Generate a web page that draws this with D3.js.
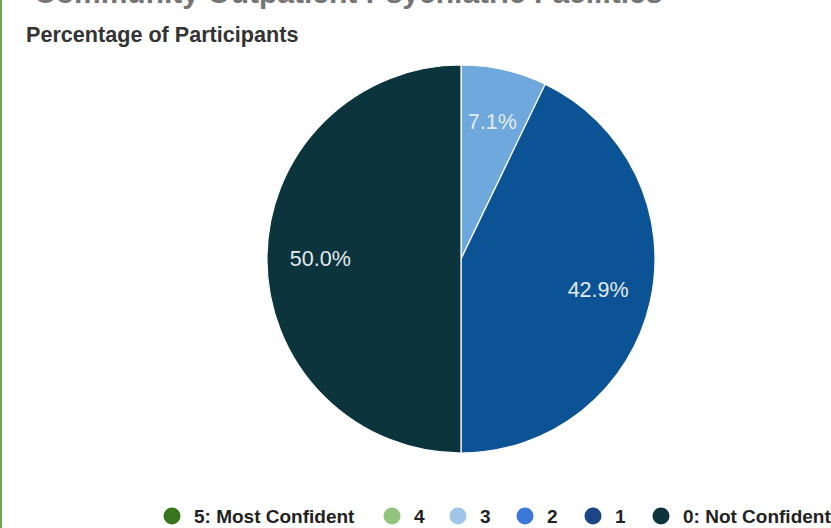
<!DOCTYPE html>
<html>
<head>
<meta charset="utf-8">
<script src="https://cdn.jsdelivr.net/npm/d3@7"></script>
<style>
  html, body { margin: 0; padding: 0; background: #fff; overflow: hidden; }
  svg { display: block; font-family: "Liberation Sans", Arial, sans-serif; }
</style>
</head>
<body>
<svg id="chart" width="831" height="528"></svg>
<script>
// Confidence ratings, 5 (most) down to 0 (not confident)
const categories = ["5: Most Confident", "4", "3", "2", "1", "0: Not Confident"];
const counts = [0, 0, 1, 0, 6, 7];
const sliceColors = ["#38761d", "#93c47d", "#6fa8dc", "#3c78d8", "#0b5394", "#0c343d"];
const legendColors = ["#38761d", "#93c47d", "#9fc5e8", "#3c78d8", "#1c4587", "#0c343d"];
const titleText = "Community Outpatient Psychiatric Facilities";
const subtitleText = "Percentage of Participants";

const W = 831, H = 528;
const svg = d3.select("#chart");

// Frame accent on the left edge
svg.append("rect").attr("x", 0).attr("y", 0).attr("width", 2).attr("height", H).attr("fill", "#6aa84f");

// Chart title sits at the very top of the frame
svg.append("text")
  .attr("x", 34).attr("y", 3)
  .attr("font-size", 30).attr("font-weight", "bold").attr("fill", "#757575")
  .text(titleText);

svg.append("text")
  .attr("x", 26).attr("y", 42)
  .attr("font-size", 21.6).attr("font-weight", "bold").attr("fill", "#333333")
  .text(subtitleText);

const data = categories.map((c, i) => ({ cat: c, value: counts[i], i }));
const total = d3.sum(counts);

const cx = 461, cy = 259, r = 194;
const pie = d3.pie().value(d => d.value).sort(null);
const arcs = pie(data).filter(a => a.data.value > 0);
const arc = d3.arc().innerRadius(0).outerRadius(r);
const labelArc = d3.arc().innerRadius(r * 0.725).outerRadius(r * 0.725);

const g = svg.append("g").attr("transform", `translate(${cx},${cy})`);
g.selectAll("path.slice").data(arcs).join("path")
  .attr("class", "slice")
  .attr("d", arc)
  .attr("fill", d => sliceColors[d.data.i])
  .attr("stroke", "#ffffff").attr("stroke-width", 1.2);

const fmt = v => (v / total * 100).toFixed(1) + "%";
g.selectAll("text.lbl").data(arcs).join("text")
  .attr("class", "lbl")
  .attr("transform", d => { const [x, y] = labelArc.centroid(d); return `translate(${x},${y})`; })
  .attr("text-anchor", "middle").attr("dominant-baseline", "central")
  .attr("font-size", 21.5).attr("fill", "#e3eaee")
  .text(d => fmt(d.data.value));

// Legend along the bottom
const legend = svg.append("g").attr("transform", "translate(0,516)");
const itemX = [172, 392, 458, 525, 593, 661];
const items = legend.selectAll("g.item").data(categories).join("g")
  .attr("class", "item")
  .attr("transform", (d, i) => `translate(${itemX[i]},0)`);
items.append("circle").attr("r", 8.5).attr("fill", (d, i) => legendColors[i]);
items.append("text")
  .attr("x", 22).attr("y", 0).attr("dominant-baseline", "central")
  .attr("font-size", 19).attr("font-weight", "bold").attr("fill", "#222222")
  .text(d => d);
</script>
</body>
</html>
